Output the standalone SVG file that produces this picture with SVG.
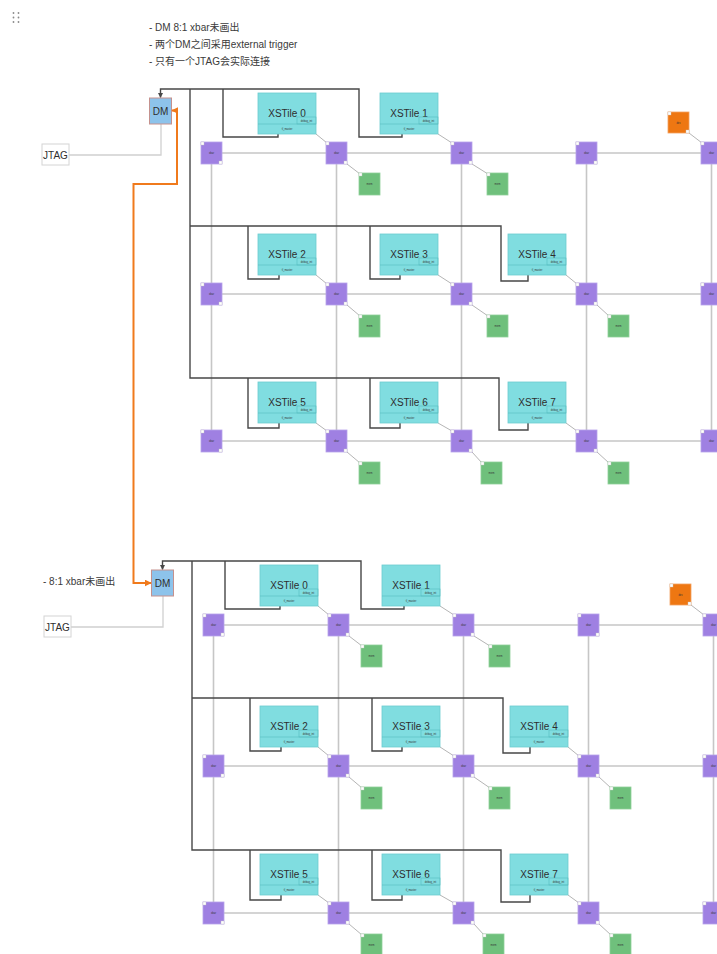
<svg xmlns="http://www.w3.org/2000/svg" width="717" height="954" viewBox="0 0 717 954">
  <style>
    text { font-family: "Liberation Sans", "Noto Sans CJK SC", sans-serif; }
    .note { font-size: 10px; fill: #3a3a3a; }
    .label { font-size: 10px; fill: #2e2e2e; text-anchor: middle; }
    .micro { font-size: 2.6px; fill: #333; text-anchor: middle; }
    .grid { stroke: #c6c6c6; stroke-width: 1.6; fill: none; }
    .bus { stroke: #474747; stroke-width: 1.4; fill: none; }
    .link { stroke: #b5b5b5; stroke-width: 1; fill: none; }
    .jtag-link { stroke: #d0d0d0; stroke-width: 1.3; fill: none; }
    .trig { stroke: #f07a1c; stroke-width: 2; fill: none; }
    .tile-body { fill: #80dde0; stroke: #6cccd0; stroke-width: 0.8; }
    .tile-sep { stroke: #55bcc0; stroke-width: 0.6; fill: none; }
    .router .body { fill: #9f80e2; stroke: #b7a2ea; stroke-width: 0.8; }
    .mem .body { fill: #6fc07c; stroke: #90d09a; stroke-width: 0.8; }
    .dev .body { fill: #ee7712; stroke: #f3a060; stroke-width: 0.8; }
    .port { fill: #ffffff; stroke: #c4c4c4; stroke-width: 0.4; }
    .dm rect { fill: #8dc3eb; stroke: #c5918d; stroke-width: 1; }
    .jtag rect { fill: #ffffff; stroke: #d4d4d4; stroke-width: 1; }
    .handle circle { fill: #8a8a8a; }
  </style>
  <defs>
    <marker id="arrow-dark" viewBox="0 0 10 10" refX="9" refY="5" markerWidth="5" markerHeight="5" orient="auto" markerUnits="userSpaceOnUse">
      <path d="M0,0 L10,5 L0,10 z" fill="#474747"/>
    </marker>
    <marker id="arrow-orange" viewBox="0 0 10 10" refX="9" refY="5" markerWidth="7" markerHeight="7" orient="auto-start-reverse" markerUnits="userSpaceOnUse">
      <path d="M0,0 L10,5 L0,10 z" fill="#f07a1c"/>
    </marker>
  </defs>

  <rect width="717" height="954" fill="#ffffff"/>

  <!-- drag handle -->
  <g class="handle">
    <circle cx="13.5" cy="13" r="0.9"/><circle cx="18.5" cy="13" r="0.9"/>
    <circle cx="13.5" cy="17.5" r="0.9"/><circle cx="18.5" cy="17.5" r="0.9"/>
    <circle cx="13.5" cy="22" r="0.9"/><circle cx="18.5" cy="22" r="0.9"/>
  </g>

  <!-- notes -->
  <g id="notes">
    <text class="note" x="149" y="31">- DM 8:1 xbar未画出</text>
    <text class="note" x="149" y="48">- 两个DM之间采用external trigger</text>
    <text class="note" x="149" y="65">- 只有一个JTAG会实际连接</text>
    <text class="note" x="43" y="585">- 8:1 xbar未画出</text>
  </g>

  <!-- ===================== board A ===================== -->
  <g id="board-a">
    <g id="connectors-a">
      <!-- mesh -->
      <path class="grid" d="M211.5,153 H717 M211.5,294 H717 M211.5,441 H717"/>
      <path class="grid" d="M211.5,153 V441 M336.5,153 V441 M461.5,153 V441 M586.5,153 V441 M711.5,153 V441"/>
      <!-- jtag -->
      <path class="jtag-link" d="M69,155 H161 V124"/>
      <!-- debug bus -->
      <path class="bus" d="M402,134 V137 H359 V89 H160.5 V97.5" marker-end="url(#arrow-dark)"/>
      <path class="bus" d="M190,89 V378 H499 V430 H528 V423"/>
      <path class="bus" d="M223,89 V137 H278 V134"/>
      <path class="bus" d="M190,226 H501 V281 H528 V275"/>
      <path class="bus" d="M248,226 V279 H279 V275"/>
      <path class="bus" d="M370,226 V279 H400 V275"/>
      <path class="bus" d="M248,378 V428 H279 V423"/>
      <path class="bus" d="M370,378 V428 H400 V423"/>
      <!-- tile to router -->
      <path class="link" d="M316,134 L327,143 M438,134 L452,143 M316,275 L327,284 M438,275 L452,284 M566,275 L577,284 M316,423 L327,431 M438,423 L452,431 M566,423 L577,431"/>
      <!-- router to memory / device -->
      <path class="link" d="M347,164 L360,174 M472,164 L488,174 M347,305 L360,316 M472,305 L488,316 M597,305 L609,316 M347,452 L360,463 M472,452 L482,463 M597,452 L609,463 M689,133 L702,143"/>
    </g>

    <g id="dm-a" class="dm">
      <rect x="149.5" y="98" width="22" height="26"/>
      <text class="label" x="160.5" y="114.5">DM</text>
    </g>
    <g id="jtag-a" class="jtag">
      <rect x="42" y="144" width="27" height="21"/>
      <text class="label" x="55.5" y="158.5">JTAG</text>
    </g>

    <!-- tiles -->
    <g id="xstile-a0"><rect class="tile-body" x="258" y="93" width="58" height="41"/><text class="label" x="287" y="117">XSTile 0</text><rect class="tile-sep" x="297" y="117" width="19" height="7"/><text class="micro" x="306.5" y="121.5">debug_int</text><line class="tile-sep" x1="258" y1="124" x2="316" y2="124"/><text class="micro" x="287" y="130">tl_master</text></g>
    <g id="xstile-a1"><rect class="tile-body" x="380" y="93" width="58" height="41"/><text class="label" x="409" y="117">XSTile 1</text><rect class="tile-sep" x="419" y="117" width="19" height="7"/><text class="micro" x="428.5" y="121.5">debug_int</text><line class="tile-sep" x1="380" y1="124" x2="438" y2="124"/><text class="micro" x="409" y="130">tl_master</text></g>
    <g id="xstile-a2"><rect class="tile-body" x="258" y="234" width="58" height="41"/><text class="label" x="287" y="258">XSTile 2</text><rect class="tile-sep" x="297" y="258" width="19" height="7"/><text class="micro" x="306.5" y="262.5">debug_int</text><line class="tile-sep" x1="258" y1="265" x2="316" y2="265"/><text class="micro" x="287" y="271">tl_master</text></g>
    <g id="xstile-a3"><rect class="tile-body" x="380" y="234" width="58" height="41"/><text class="label" x="409" y="258">XSTile 3</text><rect class="tile-sep" x="419" y="258" width="19" height="7"/><text class="micro" x="428.5" y="262.5">debug_int</text><line class="tile-sep" x1="380" y1="265" x2="438" y2="265"/><text class="micro" x="409" y="271">tl_master</text></g>
    <g id="xstile-a4"><rect class="tile-body" x="508" y="234" width="58" height="41"/><text class="label" x="537" y="258">XSTile 4</text><rect class="tile-sep" x="547" y="258" width="19" height="7"/><text class="micro" x="556.5" y="262.5">debug_int</text><line class="tile-sep" x1="508" y1="265" x2="566" y2="265"/><text class="micro" x="537" y="271">tl_master</text></g>
    <g id="xstile-a5"><rect class="tile-body" x="258" y="382" width="58" height="41"/><text class="label" x="287" y="406">XSTile 5</text><rect class="tile-sep" x="297" y="406" width="19" height="7"/><text class="micro" x="306.5" y="410.5">debug_int</text><line class="tile-sep" x1="258" y1="413" x2="316" y2="413"/><text class="micro" x="287" y="419">tl_master</text></g>
    <g id="xstile-a6"><rect class="tile-body" x="380" y="382" width="58" height="41"/><text class="label" x="409" y="406">XSTile 6</text><rect class="tile-sep" x="419" y="406" width="19" height="7"/><text class="micro" x="428.5" y="410.5">debug_int</text><line class="tile-sep" x1="380" y1="413" x2="438" y2="413"/><text class="micro" x="409" y="419">tl_master</text></g>
    <g id="xstile-a7"><rect class="tile-body" x="508" y="382" width="58" height="41"/><text class="label" x="537" y="406">XSTile 7</text><rect class="tile-sep" x="547" y="406" width="19" height="7"/><text class="micro" x="556.5" y="410.5">debug_int</text><line class="tile-sep" x1="508" y1="413" x2="566" y2="413"/><text class="micro" x="537" y="419">tl_master</text></g>

    <!-- routers -->
    <g id="router-a00" class="router"><rect class="body" x="201" y="142" width="21" height="22"/><rect class="port" x="201" y="142" width="3" height="3"/><rect class="port" x="219" y="161" width="3" height="3"/><text class="micro" x="211.5" y="154">xbar</text></g>
    <g id="router-a01" class="router"><rect class="body" x="326" y="142" width="21" height="22"/><rect class="port" x="326" y="142" width="3" height="3"/><rect class="port" x="344" y="161" width="3" height="3"/><text class="micro" x="336.5" y="154">xbar</text></g>
    <g id="router-a02" class="router"><rect class="body" x="451" y="142" width="21" height="22"/><rect class="port" x="451" y="142" width="3" height="3"/><rect class="port" x="469" y="161" width="3" height="3"/><text class="micro" x="461.5" y="154">xbar</text></g>
    <g id="router-a03" class="router"><rect class="body" x="576" y="142" width="21" height="22"/><rect class="port" x="576" y="142" width="3" height="3"/><rect class="port" x="594" y="161" width="3" height="3"/><text class="micro" x="586.5" y="154">xbar</text></g>
    <g id="router-a04" class="router"><rect class="body" x="701" y="142" width="21" height="22"/><rect class="port" x="701" y="142" width="3" height="3"/><text class="micro" x="711.5" y="154">xbar</text></g>
    <g id="router-a10" class="router"><rect class="body" x="201" y="283" width="21" height="22"/><rect class="port" x="201" y="283" width="3" height="3"/><rect class="port" x="219" y="302" width="3" height="3"/><text class="micro" x="211.5" y="295">xbar</text></g>
    <g id="router-a11" class="router"><rect class="body" x="326" y="283" width="21" height="22"/><rect class="port" x="326" y="283" width="3" height="3"/><rect class="port" x="344" y="302" width="3" height="3"/><text class="micro" x="336.5" y="295">xbar</text></g>
    <g id="router-a12" class="router"><rect class="body" x="451" y="283" width="21" height="22"/><rect class="port" x="451" y="283" width="3" height="3"/><rect class="port" x="469" y="302" width="3" height="3"/><text class="micro" x="461.5" y="295">xbar</text></g>
    <g id="router-a13" class="router"><rect class="body" x="576" y="283" width="21" height="22"/><rect class="port" x="576" y="283" width="3" height="3"/><rect class="port" x="594" y="302" width="3" height="3"/><text class="micro" x="586.5" y="295">xbar</text></g>
    <g id="router-a14" class="router"><rect class="body" x="701" y="283" width="21" height="22"/><rect class="port" x="701" y="283" width="3" height="3"/><text class="micro" x="711.5" y="295">xbar</text></g>
    <g id="router-a20" class="router"><rect class="body" x="201" y="430" width="21" height="22"/><rect class="port" x="201" y="430" width="3" height="3"/><rect class="port" x="219" y="449" width="3" height="3"/><text class="micro" x="211.5" y="442">xbar</text></g>
    <g id="router-a21" class="router"><rect class="body" x="326" y="430" width="21" height="22"/><rect class="port" x="326" y="430" width="3" height="3"/><rect class="port" x="344" y="449" width="3" height="3"/><text class="micro" x="336.5" y="442">xbar</text></g>
    <g id="router-a22" class="router"><rect class="body" x="451" y="430" width="21" height="22"/><rect class="port" x="451" y="430" width="3" height="3"/><rect class="port" x="469" y="449" width="3" height="3"/><text class="micro" x="461.5" y="442">xbar</text></g>
    <g id="router-a23" class="router"><rect class="body" x="576" y="430" width="21" height="22"/><rect class="port" x="576" y="430" width="3" height="3"/><rect class="port" x="594" y="449" width="3" height="3"/><text class="micro" x="586.5" y="442">xbar</text></g>
    <g id="router-a24" class="router"><rect class="body" x="701" y="430" width="21" height="22"/><rect class="port" x="701" y="430" width="3" height="3"/><text class="micro" x="711.5" y="442">xbar</text></g>

    <!-- memory slices -->
    <g id="mem-a01" class="mem"><rect class="body" x="359" y="173" width="21" height="22"/><rect class="port" x="359" y="173" width="3" height="3"/><text class="micro" x="369.5" y="185">mem</text></g>
    <g id="mem-a02" class="mem"><rect class="body" x="487" y="173" width="21" height="22"/><rect class="port" x="487" y="173" width="3" height="3"/><text class="micro" x="497.5" y="185">mem</text></g>
    <g id="mem-a11" class="mem"><rect class="body" x="359" y="315" width="21" height="22"/><rect class="port" x="359" y="315" width="3" height="3"/><text class="micro" x="369.5" y="327">mem</text></g>
    <g id="mem-a12" class="mem"><rect class="body" x="487" y="315" width="21" height="22"/><rect class="port" x="487" y="315" width="3" height="3"/><text class="micro" x="497.5" y="327">mem</text></g>
    <g id="mem-a13" class="mem"><rect class="body" x="608" y="315" width="21" height="22"/><rect class="port" x="608" y="315" width="3" height="3"/><text class="micro" x="618.5" y="327">mem</text></g>
    <g id="mem-a21" class="mem"><rect class="body" x="359" y="462" width="21" height="22"/><rect class="port" x="359" y="462" width="3" height="3"/><text class="micro" x="369.5" y="474">mem</text></g>
    <g id="mem-a22" class="mem"><rect class="body" x="481" y="462" width="21" height="22"/><rect class="port" x="481" y="462" width="3" height="3"/><text class="micro" x="491.5" y="474">mem</text></g>
    <g id="mem-a23" class="mem"><rect class="body" x="608" y="462" width="21" height="22"/><rect class="port" x="608" y="462" width="3" height="3"/><text class="micro" x="618.5" y="474">mem</text></g>

    <!-- device -->
    <g id="dev-a" class="dev"><rect class="body" x="668" y="112" width="21" height="21"/><rect class="port" x="668" y="112" width="3" height="3"/><rect class="port" x="686" y="130" width="3" height="3"/><text class="micro" x="678.5" y="123.5">dev</text></g>
  </g>

  <!-- ===================== board B ===================== -->
  <g id="board-b" transform="translate(2,472)">
    <g id="connectors-b">
      <path class="grid" d="M211.5,153 H717 M211.5,294 H717 M211.5,441 H717"/>
      <path class="grid" d="M211.5,153 V441 M336.5,153 V441 M461.5,153 V441 M586.5,153 V441 M711.5,153 V441"/>
      <path class="jtag-link" d="M69,155 H161 V124"/>
      <path class="bus" d="M402,134 V137 H359 V89 H160.5 V97.5" marker-end="url(#arrow-dark)"/>
      <path class="bus" d="M190,89 V378 H499 V430 H528 V423"/>
      <path class="bus" d="M223,89 V137 H278 V134"/>
      <path class="bus" d="M190,226 H501 V281 H528 V275"/>
      <path class="bus" d="M248,226 V279 H279 V275"/>
      <path class="bus" d="M370,226 V279 H400 V275"/>
      <path class="bus" d="M248,378 V428 H279 V423"/>
      <path class="bus" d="M370,378 V428 H400 V423"/>
      <path class="link" d="M316,134 L327,143 M438,134 L452,143 M316,275 L327,284 M438,275 L452,284 M566,275 L577,284 M316,423 L327,431 M438,423 L452,431 M566,423 L577,431"/>
      <path class="link" d="M347,164 L360,174 M472,164 L488,174 M347,305 L360,316 M472,305 L488,316 M597,305 L609,316 M347,452 L360,463 M472,452 L482,463 M597,452 L609,463 M689,133 L702,143"/>
    </g>

    <g id="dm-b" class="dm">
      <rect x="149.5" y="98" width="22" height="26"/>
      <text class="label" x="160.5" y="114.5">DM</text>
    </g>
    <g id="jtag-b" class="jtag">
      <rect x="42" y="144" width="27" height="21"/>
      <text class="label" x="55.5" y="158.5">JTAG</text>
    </g>

    <g id="xstile-b0"><rect class="tile-body" x="258" y="93" width="58" height="41"/><text class="label" x="287" y="117">XSTile 0</text><rect class="tile-sep" x="297" y="117" width="19" height="7"/><text class="micro" x="306.5" y="121.5">debug_int</text><line class="tile-sep" x1="258" y1="124" x2="316" y2="124"/><text class="micro" x="287" y="130">tl_master</text></g>
    <g id="xstile-b1"><rect class="tile-body" x="380" y="93" width="58" height="41"/><text class="label" x="409" y="117">XSTile 1</text><rect class="tile-sep" x="419" y="117" width="19" height="7"/><text class="micro" x="428.5" y="121.5">debug_int</text><line class="tile-sep" x1="380" y1="124" x2="438" y2="124"/><text class="micro" x="409" y="130">tl_master</text></g>
    <g id="xstile-b2"><rect class="tile-body" x="258" y="234" width="58" height="41"/><text class="label" x="287" y="258">XSTile 2</text><rect class="tile-sep" x="297" y="258" width="19" height="7"/><text class="micro" x="306.5" y="262.5">debug_int</text><line class="tile-sep" x1="258" y1="265" x2="316" y2="265"/><text class="micro" x="287" y="271">tl_master</text></g>
    <g id="xstile-b3"><rect class="tile-body" x="380" y="234" width="58" height="41"/><text class="label" x="409" y="258">XSTile 3</text><rect class="tile-sep" x="419" y="258" width="19" height="7"/><text class="micro" x="428.5" y="262.5">debug_int</text><line class="tile-sep" x1="380" y1="265" x2="438" y2="265"/><text class="micro" x="409" y="271">tl_master</text></g>
    <g id="xstile-b4"><rect class="tile-body" x="508" y="234" width="58" height="41"/><text class="label" x="537" y="258">XSTile 4</text><rect class="tile-sep" x="547" y="258" width="19" height="7"/><text class="micro" x="556.5" y="262.5">debug_int</text><line class="tile-sep" x1="508" y1="265" x2="566" y2="265"/><text class="micro" x="537" y="271">tl_master</text></g>
    <g id="xstile-b5"><rect class="tile-body" x="258" y="382" width="58" height="41"/><text class="label" x="287" y="406">XSTile 5</text><rect class="tile-sep" x="297" y="406" width="19" height="7"/><text class="micro" x="306.5" y="410.5">debug_int</text><line class="tile-sep" x1="258" y1="413" x2="316" y2="413"/><text class="micro" x="287" y="419">tl_master</text></g>
    <g id="xstile-b6"><rect class="tile-body" x="380" y="382" width="58" height="41"/><text class="label" x="409" y="406">XSTile 6</text><rect class="tile-sep" x="419" y="406" width="19" height="7"/><text class="micro" x="428.5" y="410.5">debug_int</text><line class="tile-sep" x1="380" y1="413" x2="438" y2="413"/><text class="micro" x="409" y="419">tl_master</text></g>
    <g id="xstile-b7"><rect class="tile-body" x="508" y="382" width="58" height="41"/><text class="label" x="537" y="406">XSTile 7</text><rect class="tile-sep" x="547" y="406" width="19" height="7"/><text class="micro" x="556.5" y="410.5">debug_int</text><line class="tile-sep" x1="508" y1="413" x2="566" y2="413"/><text class="micro" x="537" y="419">tl_master</text></g>

    <g id="router-b00" class="router"><rect class="body" x="201" y="142" width="21" height="22"/><rect class="port" x="201" y="142" width="3" height="3"/><rect class="port" x="219" y="161" width="3" height="3"/><text class="micro" x="211.5" y="154">xbar</text></g>
    <g id="router-b01" class="router"><rect class="body" x="326" y="142" width="21" height="22"/><rect class="port" x="326" y="142" width="3" height="3"/><rect class="port" x="344" y="161" width="3" height="3"/><text class="micro" x="336.5" y="154">xbar</text></g>
    <g id="router-b02" class="router"><rect class="body" x="451" y="142" width="21" height="22"/><rect class="port" x="451" y="142" width="3" height="3"/><rect class="port" x="469" y="161" width="3" height="3"/><text class="micro" x="461.5" y="154">xbar</text></g>
    <g id="router-b03" class="router"><rect class="body" x="576" y="142" width="21" height="22"/><rect class="port" x="576" y="142" width="3" height="3"/><rect class="port" x="594" y="161" width="3" height="3"/><text class="micro" x="586.5" y="154">xbar</text></g>
    <g id="router-b04" class="router"><rect class="body" x="701" y="142" width="21" height="22"/><rect class="port" x="701" y="142" width="3" height="3"/><text class="micro" x="711.5" y="154">xbar</text></g>
    <g id="router-b10" class="router"><rect class="body" x="201" y="283" width="21" height="22"/><rect class="port" x="201" y="283" width="3" height="3"/><rect class="port" x="219" y="302" width="3" height="3"/><text class="micro" x="211.5" y="295">xbar</text></g>
    <g id="router-b11" class="router"><rect class="body" x="326" y="283" width="21" height="22"/><rect class="port" x="326" y="283" width="3" height="3"/><rect class="port" x="344" y="302" width="3" height="3"/><text class="micro" x="336.5" y="295">xbar</text></g>
    <g id="router-b12" class="router"><rect class="body" x="451" y="283" width="21" height="22"/><rect class="port" x="451" y="283" width="3" height="3"/><rect class="port" x="469" y="302" width="3" height="3"/><text class="micro" x="461.5" y="295">xbar</text></g>
    <g id="router-b13" class="router"><rect class="body" x="576" y="283" width="21" height="22"/><rect class="port" x="576" y="283" width="3" height="3"/><rect class="port" x="594" y="302" width="3" height="3"/><text class="micro" x="586.5" y="295">xbar</text></g>
    <g id="router-b14" class="router"><rect class="body" x="701" y="283" width="21" height="22"/><rect class="port" x="701" y="283" width="3" height="3"/><text class="micro" x="711.5" y="295">xbar</text></g>
    <g id="router-b20" class="router"><rect class="body" x="201" y="430" width="21" height="22"/><rect class="port" x="201" y="430" width="3" height="3"/><rect class="port" x="219" y="449" width="3" height="3"/><text class="micro" x="211.5" y="442">xbar</text></g>
    <g id="router-b21" class="router"><rect class="body" x="326" y="430" width="21" height="22"/><rect class="port" x="326" y="430" width="3" height="3"/><rect class="port" x="344" y="449" width="3" height="3"/><text class="micro" x="336.5" y="442">xbar</text></g>
    <g id="router-b22" class="router"><rect class="body" x="451" y="430" width="21" height="22"/><rect class="port" x="451" y="430" width="3" height="3"/><rect class="port" x="469" y="449" width="3" height="3"/><text class="micro" x="461.5" y="442">xbar</text></g>
    <g id="router-b23" class="router"><rect class="body" x="576" y="430" width="21" height="22"/><rect class="port" x="576" y="430" width="3" height="3"/><rect class="port" x="594" y="449" width="3" height="3"/><text class="micro" x="586.5" y="442">xbar</text></g>
    <g id="router-b24" class="router"><rect class="body" x="701" y="430" width="21" height="22"/><rect class="port" x="701" y="430" width="3" height="3"/><text class="micro" x="711.5" y="442">xbar</text></g>

    <g id="mem-b01" class="mem"><rect class="body" x="359" y="173" width="21" height="22"/><rect class="port" x="359" y="173" width="3" height="3"/><text class="micro" x="369.5" y="185">mem</text></g>
    <g id="mem-b02" class="mem"><rect class="body" x="487" y="173" width="21" height="22"/><rect class="port" x="487" y="173" width="3" height="3"/><text class="micro" x="497.5" y="185">mem</text></g>
    <g id="mem-b11" class="mem"><rect class="body" x="359" y="315" width="21" height="22"/><rect class="port" x="359" y="315" width="3" height="3"/><text class="micro" x="369.5" y="327">mem</text></g>
    <g id="mem-b12" class="mem"><rect class="body" x="487" y="315" width="21" height="22"/><rect class="port" x="487" y="315" width="3" height="3"/><text class="micro" x="497.5" y="327">mem</text></g>
    <g id="mem-b13" class="mem"><rect class="body" x="608" y="315" width="21" height="22"/><rect class="port" x="608" y="315" width="3" height="3"/><text class="micro" x="618.5" y="327">mem</text></g>
    <g id="mem-b21" class="mem"><rect class="body" x="359" y="462" width="21" height="22"/><rect class="port" x="359" y="462" width="3" height="3"/><text class="micro" x="369.5" y="474">mem</text></g>
    <g id="mem-b22" class="mem"><rect class="body" x="481" y="462" width="21" height="22"/><rect class="port" x="481" y="462" width="3" height="3"/><text class="micro" x="491.5" y="474">mem</text></g>
    <g id="mem-b23" class="mem"><rect class="body" x="608" y="462" width="21" height="22"/><rect class="port" x="608" y="462" width="3" height="3"/><text class="micro" x="618.5" y="474">mem</text></g>

    <g id="dev-b" class="dev"><rect class="body" x="668" y="112" width="21" height="21"/><rect class="port" x="668" y="112" width="3" height="3"/><rect class="port" x="686" y="130" width="3" height="3"/><text class="micro" x="678.5" y="123.5">dev</text></g>
  </g>

  <!-- external trigger between the two debug modules -->
  <g id="connectors-trigger">
    <path class="trig" d="M172,110.5 H177 V184 H133.5 V583 H151" marker-start="url(#arrow-orange)" marker-end="url(#arrow-orange)"/>
  </g>
</svg>
